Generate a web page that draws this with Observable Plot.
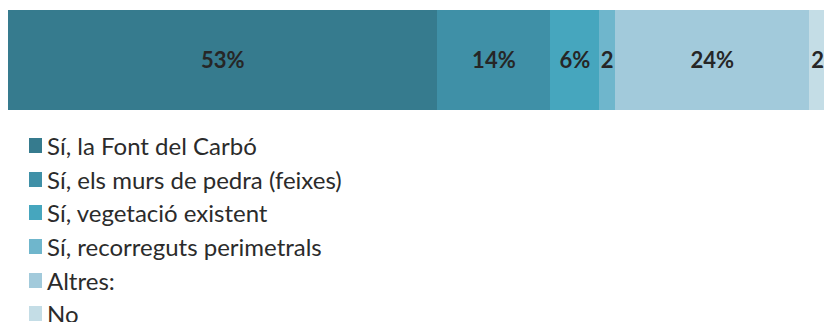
<!DOCTYPE html>
<html>
<head>
<meta charset="utf-8">
<script src="https://cdn.jsdelivr.net/npm/d3@7"></script>
<script src="https://cdn.jsdelivr.net/npm/@observablehq/plot@0.6"></script>
<style>
  html, body { margin: 0; padding: 0; background: #fff; overflow: hidden; }
  body { font-family: Lato, "Open Sans", sans-serif; color: #2b2b2b; width: 824px; }
  #legend { margin-left: 29px; margin-top: 9px; }
  .row { display: flex; align-items: center; height: 33.6px; font-size: 24px; }
  .sw { width: 13px; height: 15px; margin-right: 5px; flex: none; }
</style>
</head>
<body>
<div id="chart"></div>
<div id="legend"></div>
<script>
// Answer categories, in stacking order
const categories = [
  "Sí, la Font del Carbó",
  "Sí, els murs de pedra (feixes)",
  "Sí, vegetació existent",
  "Sí, recorreguts perimetrals",
  "Altres:",
  "No"
];
// Share of responses (%)
const values = [53, 14, 6, 2, 24, 2];
const palette = ["#367b8e", "#3f90a7", "#46a6be", "#6fb6cc", "#a2cadb", "#c4dde6"];

const rows = categories.map((category, i) => ({category, value: values[i]}));

const plot = Plot.plot({
  width: 824,
  height: 120,
  marginTop: 10,
  marginBottom: 10,
  marginLeft: 8,
  marginRight: 0,
  x: {domain: [0, 100], range: [8, 817], axis: null},
  color: {domain: categories, range: palette},
  style: {fontFamily: "Lato, 'Open Sans', sans-serif", background: "transparent", overflow: "hidden"},
  marks: [
    Plot.barX(rows, Plot.stackX({x: "value", fill: "category", inset: 0, shapeRendering: "crispEdges"})),
    Plot.text(rows, Plot.stackX({
      x: "value",
      z: "category",
      frameAnchor: "middle",
      text: d => d.value >= 5 ? `${d.value}%` : `${d.value}`,
      fill: "#262626",
      fontSize: 22,
      fontWeight: "bold"
    }))
  ]
});
document.getElementById("chart").append(plot);

// Vertical swatch list using the plot's own color scale
const color = plot.scale("color");
const scale = d3.scaleOrdinal(color.domain, color.range);
const legend = d3.select("#legend");
for (const c of categories) {
  const row = legend.append("div").attr("class", "row");
  row.append("div").attr("class", "sw").style("background", scale(c));
  row.append("span").text(c);
}
</script>
</body>
</html>
